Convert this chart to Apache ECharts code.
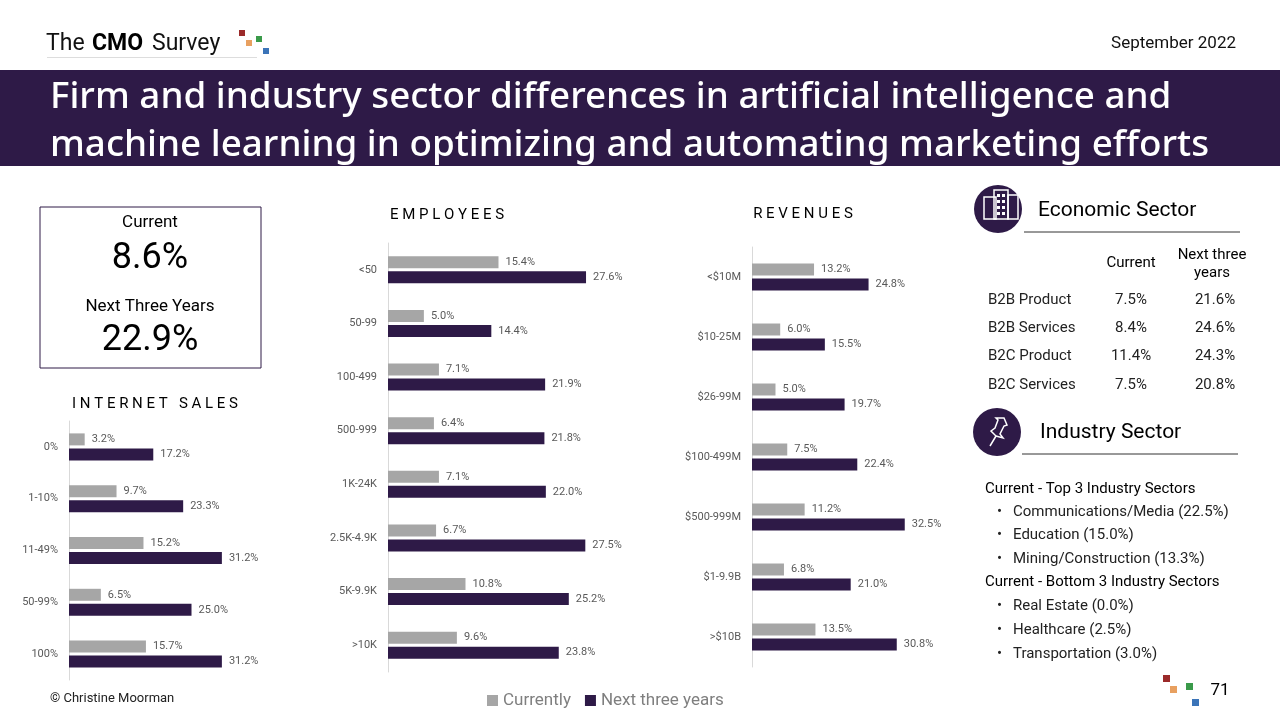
<!DOCTYPE html>
<html><head><meta charset="utf-8">
<script src="https://cdn.jsdelivr.net/npm/echarts@6/dist/echarts.min.js"></script>
<style>html,body{margin:0;padding:0;background:#fff}#c{width:1280px;height:720px}</style>
</head><body><div id="c"></div>
<script>
const internetCats = ['0%','1-10%','11-49%','50-99%','100%'];
const internetCur = [3.2,9.7,15.2,6.5,15.7];
const internetNext = [17.2,23.3,31.2,25.0,31.2];
const empCats = ['<50','50-99','100-499','500-999','1K-24K','2.5K-4.9K','5K-9.9K','>10K'];
const empCur = [15.4,5.0,7.1,6.4,7.1,6.7,10.8,9.6];
const empNext = [27.6,14.4,21.9,21.8,22.0,27.5,25.2,23.8];
const revCats = ['<$10M','$10-25M','$26-99M','$100-499M','$500-999M','$1-9.9B','>$10B'];
const revCur = [13.2,6.0,5.0,7.5,11.2,6.8,13.5];
const revNext = [24.8,15.5,19.7,22.4,32.5,21.0,30.8];
const econRows = ['B2B Product','B2B Services','B2C Product','B2C Services'];
const econCur = ['7.5%','8.4%','11.4%','7.5%'];
const econNext = ['21.6%','24.6%','24.3%','20.8%'];
const topSectors = ['Communications/Media (22.5%)','Education (15.0%)','Mining/Construction (13.3%)'];
const bottomSectors = ['Real Estate (0.0%)','Healthcare (2.5%)','Transportation (3.0%)'];

const PURPLE='#2e1a47', GREY='#a6a6a6', F='Roboto, "Noto Sans", sans-serif', FT='"Noto Sans", sans-serif';
const chart = echarts.init(document.getElementById('c'));
const grids = [
  {left:69, top:421, width:196, height:259},
  {left:388, top:243, width:287, height:429},
  {left:752, top:247, width:188, height:420}
];
const cats=[internetCats,empCats,revCats], curs=[internetCur,empCur,revCur], nexts=[internetNext,empNext,revNext];
const xAxis=[], yAxis=[], series=[];
const lbl = {show:true, position:'right', distance:7, color:'#595959', fontSize:11, fontFamily:F, formatter:p=>p.value.toFixed(1)+'%'};
for(let i=0;i<3;i++){
  xAxis.push({gridIndex:i, type:'value', min:0, max:40, show:false});
  yAxis.push({gridIndex:i, type:'category', data:cats[i], inverse:true,
    axisLine:{lineStyle:{color:'#d9d9d9'}}, axisTick:{show:false},
    axisLabel:{color:'#595959', fontSize:11, fontFamily:F, margin:11}});
  series.push({name:'Currently', type:'bar', xAxisIndex:i, yAxisIndex:i, data:curs[i], barWidth:12, barGap:'25%', itemStyle:{color:GREY}, label:lbl});
  series.push({name:'Next three years', type:'bar', xAxisIndex:i, yAxisIndex:i, data:nexts[i], barWidth:12, barGap:'25%', itemStyle:{color:PURPLE}, label:lbl});
}
function T(x,y,text,o){return Object.assign({type:'text',x:x,y:y,style:Object.assign({text:text,fill:'#000',font:'15px '+F,textVerticalAlign:'middle'},o||{})});}
const g=[];
g.push({type:'rect',shape:{x:0,y:70,width:1280,height:96},style:{fill:PURPLE}});
g.push(T(50,98,'Firm and industry sector differences in artificial intelligence and',{fill:'#fff',font:'500 36.8px '+FT}));
g.push(T(50,146,'machine learning in optimizing and automating marketing efforts',{fill:'#fff',font:'500 36.8px '+FT}));
g.push(T(46,44,'The',{font:'23px '+F,fill:'#111'}));
g.push(T(92,44,'CMO',{font:'bold 23px '+F,fill:'#000'}));
g.push(T(152,44,'Survey',{font:'23px '+F,fill:'#111'}));
g.push({type:'rect',shape:{x:47,y:57,width:210,height:1},style:{fill:'#ddd'}});
[[239,30,'#9b2a2a'],[246,40,'#e8a060'],[256,36,'#3a9a4a'],[263,48,'#3b74b8']].forEach(s=>g.push({type:'rect',shape:{x:s[0],y:s[1],width:6,height:6},style:{fill:s[2]}}));
g.push(T(1236,44,'September 2022',{font:'17px '+F,textAlign:'right',fill:'#111'}));
g.push({type:'rect',shape:{x:40,y:207,width:221,height:161},style:{fill:'none',stroke:PURPLE,lineWidth:1}});
g.push(T(150,223,'Current',{textAlign:'center',font:'17px '+F}));
g.push(T(150,259,'8.6%',{textAlign:'center',font:'36px '+F}));
g.push(T(150,307,'Next Three Years',{textAlign:'center',font:'17px '+F}));
g.push(T(150,341,'22.9%',{textAlign:'center',font:'36px '+F}));
g.push(T(155,404,'I N T E R N E T   S A L E S',{textAlign:'center',font:'15px '+F}));
g.push(T(447,215,'E M P L O Y E E S',{textAlign:'center',font:'15px '+F}));
g.push(T(803,214,'R E V E N U E S',{textAlign:'center',font:'15px '+F}));
g.push({type:'circle',shape:{cx:998,cy:209,r:24},style:{fill:PURPLE}});
[[984,197,12,22],[994,190,14,29],[1008,195,10,24]].forEach(b=>g.push({type:'rect',shape:{x:b[0],y:b[1],width:b[2],height:b[3]},style:{fill:'none',stroke:'#fff',lineWidth:1.5}}));
for(let r=0;r<4;r++)for(let c=0;c<2;c++){g.push({type:'rect',shape:{x:997+c*5,y:194+r*6,width:3,height:3},style:{fill:'#fff'}});}
g.push(T(1038,211,'Economic Sector',{font:'21px '+F}));
g.push({type:'line',shape:{x1:1024,y1:232,x2:1240,y2:232},style:{stroke:'#333',lineWidth:1}});
g.push(T(1131,263,'Current',{textAlign:'center',font:'15px '+F}));
g.push(T(1212,255,'Next three',{textAlign:'center',font:'15px '+F}));
g.push(T(1212,273,'years',{textAlign:'center',font:'15px '+F}));
econRows.forEach((r,i)=>{const y=300+i*28.3;
  g.push(T(988,y,r,{fill:'#222'}));
  g.push(T(1131,y,econCur[i],{textAlign:'center',fill:'#222'}));
  g.push(T(1215,y,econNext[i],{textAlign:'center',fill:'#222'}));});
g.push({type:'circle',shape:{cx:997,cy:432,r:24},style:{fill:PURPLE}});
g.push({type:'polyline',shape:{points:[[990,446],[996,436],[991,431],[995,428],[998,420],[996,418],[1004,418],[1007,425],[1004,426],[1000,434],[1003,438],[996,436]]},style:{stroke:'#fff',fill:'none',lineWidth:1.5}});
g.push(T(1040,433,'Industry Sector',{font:'21px '+F}));
g.push({type:'line',shape:{x1:1022,y1:454,x2:1238,y2:454},style:{stroke:'#333',lineWidth:1}});
g.push(T(985,489,'Current - Top 3 Industry Sectors'));
topSectors.forEach((s,i)=>{g.push(T(997,512+i*23.5,'•',{fill:'#222'}));g.push(T(1013,512+i*23.5,s,{fill:'#222'}));});
g.push(T(985,582,'Current - Bottom 3 Industry Sectors'));
bottomSectors.forEach((s,i)=>{g.push(T(997,606+i*24,'•',{fill:'#222'}));g.push(T(1013,606+i*24,s,{fill:'#222'}));});
[[1163,675,'#9b2a2a'],[1170,686,'#e8a060'],[1186,683,'#3a9a4a'],[1192,699,'#3b74b8']].forEach(s=>g.push({type:'rect',shape:{x:s[0],y:s[1],width:7,height:7},style:{fill:s[2]}}));
g.push(T(1220,691,'71',{textAlign:'center',font:'17px '+F}));
g.push(T(50,699,'© Christine Moorman',{font:'13px '+F,fill:'#222'}));

chart.setOption({
  animation:false,
  grid:grids, xAxis:xAxis, yAxis:yAxis, series:series,
  legend:{data:['Currently','Next three years'], left:482, top:687, itemWidth:11, itemHeight:11, itemGap:14,
    icon:'rect', textStyle:{color:'#7f7f7f', fontSize:17, fontFamily:F}},
  graphic:g
});
</script></body></html>
